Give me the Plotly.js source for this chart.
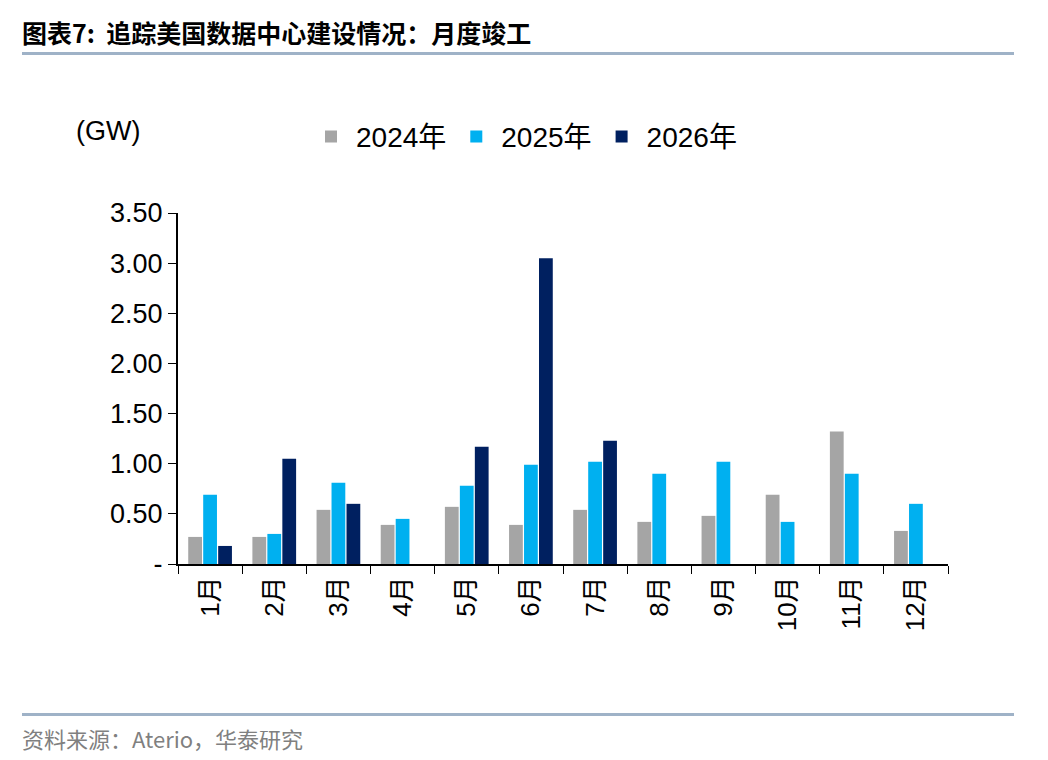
<!DOCTYPE html>
<html>
<head>
<meta charset="utf-8">
<script src="https://cdn.plot.ly/plotly-3.0.1.min.js"></script>
<style>
body{margin:0;background:#fff;font-family:"Noto Sans CJK SC",sans-serif;}
#wrap{position:relative;width:1048px;height:760px;}
#title{position:absolute;left:22px;top:14px;font-size:25px;font-weight:bold;color:#000;}
#l1{position:absolute;left:22px;top:52px;width:992px;height:3px;background:#9fb2c7;}
#l2{position:absolute;left:22px;top:713px;width:992px;height:3px;background:#9fb2c7;}
#src{position:absolute;left:22px;top:722px;font-size:22px;color:#808080;}
#chart{position:absolute;left:0;top:60px;width:1048px;height:640px;}
</style>
</head>
<body>
<div id="wrap">
<div id="title">图表7:&nbsp;&nbsp;追踪美国数据中心建设情况：月度竣工</div>
<div id="l1"></div>
<div id="chart"></div>
<div id="l2"></div>
<div id="src">资料来源：Aterio，华泰研究</div>
</div>
<script>
var months = ['1月','2月','3月','4月','5月','6月','7月','8月','9月','10月','11月','12月'];
var y2024 = [0.27,0.27,0.54,0.39,0.57,0.39,0.54,0.42,0.48,0.69,1.32,0.33];
var y2025 = [0.69,0.30,0.81,0.45,0.78,0.99,1.02,0.90,1.02,0.42,0.90,0.60];
var y2026 = [0.18,1.05,0.60,null,1.17,3.05,1.23,null,null,null,null,null];

var data = [
  {x: months, y: y2024, name: '2024年', type: 'bar', marker: {color: '#A5A5A5'}},
  {x: months, y: y2025, name: '2025年', type: 'bar', marker: {color: '#00B0F0'}},
  {x: months, y: y2026, name: '2026年', type: 'bar', marker: {color: '#002060'}}
];

var layout = {
  width: 1048, height: 640,
  margin: {l: 178, r: 100, t: 153, b: 136, autoexpand: false},
  paper_bgcolor: '#fff', plot_bgcolor: '#fff',
  font: {family: 'Liberation Sans, Noto Sans CJK SC', size: 26, color: '#000'},
  barmode: 'group', bargap: 0.3, bargroupgap: 0.08,
  showlegend: true,
  legend: {orientation: 'h', xref: 'container', yref: 'container', x: 0.5, xanchor: 'center', y: 0.88, yanchor: 'middle', font: {size: 28}, itemwidth: 40},
  xaxis: {
    showline: true, linecolor: '#000', linewidth: 2,
    ticks: 'outside', tickson: 'boundaries', ticklen: 8, tickcolor: '#000',
    tickangle: -90, tickfont: {size: 26}
  },
  yaxis: {
    range: [0, 3.5], tickvals: [0,0.5,1,1.5,2,2.5,3,3.5],
    ticktext: ['-','0.50','1.00','1.50','2.00','2.50','3.00','3.50'],
    showgrid: false, zeroline: false,
    showline: true, linecolor: '#000', linewidth: 2,
    ticks: 'outside', ticklen: 8, tickcolor: '#000', tickfont: {size: 27}
  },
  annotations: [{text: '(GW)', xref: 'paper', yref: 'paper', x: -0.135, y: 1.235, xanchor: 'left', yanchor: 'middle', showarrow: false, font: {size: 27}}]
};
Plotly.newPlot('chart', data, layout, {displayModeBar: false, staticPlot: true});
</script>
</body>
</html>
